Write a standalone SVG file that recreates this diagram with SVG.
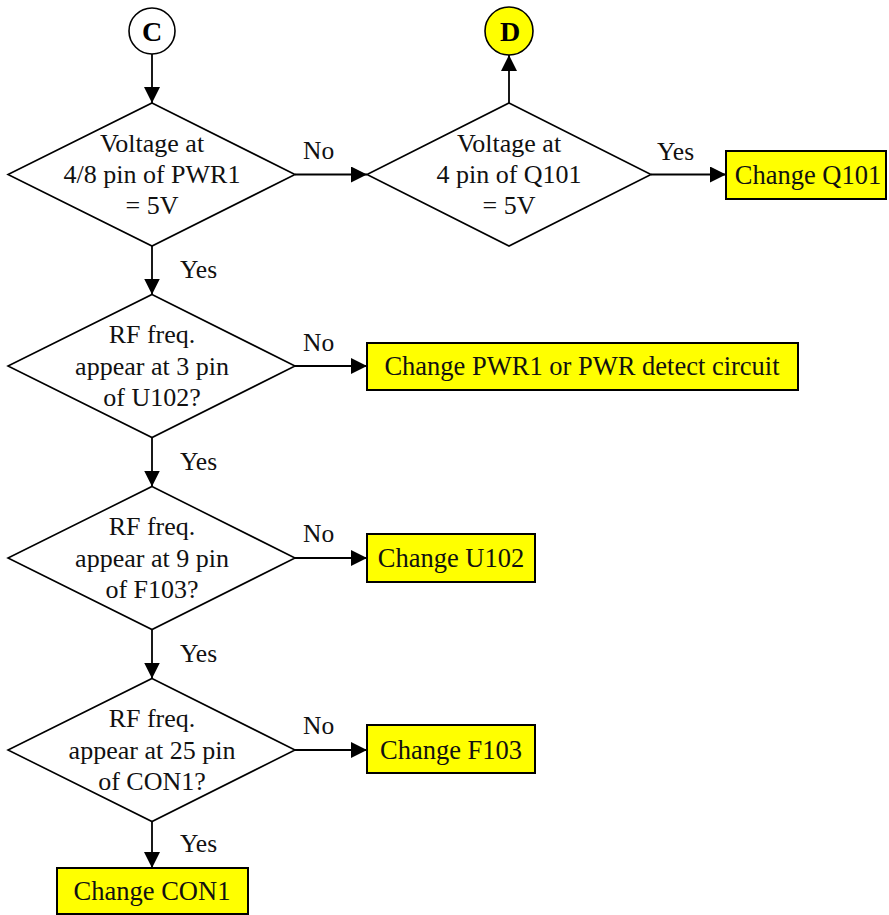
<svg xmlns="http://www.w3.org/2000/svg" width="889" height="915" viewBox="0 0 889 915">
<defs>
<marker id="arr" viewBox="0 0 16 16" refX="16" refY="8" markerWidth="16" markerHeight="16" markerUnits="userSpaceOnUse" orient="auto">
<path d="M0,0 L16,8 L0,16 Z" fill="#000"/>
</marker>
<style>
.d{fill:#fff;stroke:#000;stroke-width:1.6}
.b{fill:#ffff00;stroke:#000;stroke-width:2}
.c{stroke:#000;stroke-width:1.8;fill:none;marker-end:url(#arr)}
text{font-family:'Liberation Serif','DejaVu Serif',serif}
.t{font-size:26px;fill:#111;text-anchor:middle}
.bt{font-size:26.5px;fill:#111;text-anchor:middle}
.l{font-size:25.5px;fill:#111}
.ct{font-size:28px;font-weight:bold;fill:#000;text-anchor:middle}
</style>
</defs>
<rect width="889" height="915" fill="#fff"/>

<g id="connectors">
<line class="c" x1="152" y1="54" x2="152" y2="103"/>
<line class="c" x1="295" y1="174.5" x2="367" y2="174.5"/>
<text class="l" x="303" y="159">No</text>
<line class="c" x1="152" y1="246" x2="152" y2="294.5"/>
<text class="l" x="180" y="278">Yes</text>
<line class="c" x1="509" y1="103" x2="509" y2="55"/>
<line class="c" x1="651" y1="174.5" x2="726" y2="174.5"/>
<text class="l" x="657" y="160">Yes</text>
<line class="c" x1="295" y1="366" x2="367" y2="366"/>
<text class="l" x="303" y="351">No</text>
<line class="c" x1="152" y1="437.5" x2="152" y2="486.5"/>
<text class="l" x="180" y="470">Yes</text>
<line class="c" x1="295" y1="558" x2="367" y2="558"/>
<text class="l" x="303" y="542">No</text>
<line class="c" x1="152" y1="629.5" x2="152" y2="678.5"/>
<text class="l" x="180" y="662">Yes</text>
<line class="c" x1="295" y1="750" x2="367" y2="750"/>
<text class="l" x="303" y="734">No</text>
<line class="c" x1="152" y1="821.5" x2="152" y2="868"/>
<text class="l" x="180" y="852">Yes</text>
</g>

<g id="nodeC">
<circle cx="152" cy="31" r="23" fill="#fff" stroke="#000" stroke-width="1.6"/>
<text class="ct" x="152" y="41">C</text>
</g>
<g id="nodeD">
<circle cx="509" cy="31" r="24" fill="#ffff00" stroke="#000" stroke-width="1.6"/>
<text class="ct" x="510" y="41">D</text>
</g>

<g id="dec1">
<polygon class="d" points="152,103 295,174.5 152,246 8,174.5"/>
<text class="t" x="152" y="152">Voltage at</text>
<text class="t" x="152" y="183">4/8 pin of PWR1</text>
<text class="t" x="152" y="214">= 5V</text>
</g>
<g id="dec2">
<polygon class="d" points="509,103 651,174.5 509,246 367,174.5"/>
<text class="t" x="509" y="152">Voltage at</text>
<text class="t" x="509" y="183">4 pin of Q101</text>
<text class="t" x="509" y="214">= 5V</text>
</g>
<g id="boxQ101">
<rect class="b" x="726" y="151" width="160" height="48"/>
<text class="bt" x="808" y="184">Change Q101</text>
</g>

<g id="dec3">
<polygon class="d" points="152,294.5 295,366 152,437.5 8,366"/>
<text class="t" x="152" y="343">RF freq.</text>
<text class="t" x="152" y="375">appear at 3 pin</text>
<text class="t" x="152" y="406">of U102?</text>
</g>
<g id="boxPWR1">
<rect class="b" x="367" y="343" width="431" height="47"/>
<text class="bt" x="582" y="375">Change PWR1 or PWR detect circuit</text>
</g>

<g id="dec4">
<polygon class="d" points="152,486.5 295,558 152,629.5 8,558"/>
<text class="t" x="152" y="535">RF freq.</text>
<text class="t" x="152" y="567">appear at 9 pin</text>
<text class="t" x="152" y="598">of F103?</text>
</g>
<g id="boxU102">
<rect class="b" x="367" y="534" width="168" height="48"/>
<text class="bt" x="451" y="567">Change U102</text>
</g>

<g id="dec5">
<polygon class="d" points="152,678.5 295,750 152,821.5 8,750"/>
<text class="t" x="152" y="727">RF freq.</text>
<text class="t" x="152" y="759">appear at 25 pin</text>
<text class="t" x="152" y="790">of CON1?</text>
</g>
<g id="boxF103">
<rect class="b" x="367" y="725" width="168" height="48"/>
<text class="bt" x="451" y="759">Change F103</text>
</g>

<g id="boxCON1">
<rect class="b" x="57" y="868" width="191" height="46"/>
<text class="bt" x="152" y="900">Change CON1</text>
</g>
</svg>
